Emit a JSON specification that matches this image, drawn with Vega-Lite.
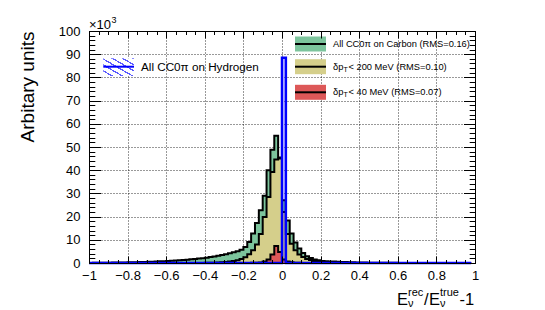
{
"$schema": "https://vega.github.io/schema/vega-lite/v6.json",
"width": 386, "height": 232,
"autosize": "none",
"padding": {"left": 89, "top": 31, "right": 70, "bottom": 47},
"background": "white",
"config": {"view": {"stroke": "#000", "strokeWidth": 1}, "font": "Liberation Sans",
  "axis": {"labelFont": "Liberation Sans", "titleFont": "Liberation Sans", "labelColor": "#000", "titleColor": "#000", "domainColor": "#000", "tickColor": "#000"}},
"resolve": {"axis": {"x": "independent", "y": "independent"}},
"data": {"values": [
{"x":-1,"c":50,"d":0,"r":0,"h":0},
{"x":-0.98,"c":60,"d":0,"r":0,"h":0},
{"x":-0.96,"c":80,"d":0,"r":0,"h":0},
{"x":-0.94,"c":100,"d":0,"r":0,"h":0},
{"x":-0.92,"c":120,"d":0,"r":0,"h":0},
{"x":-0.9,"c":150,"d":0,"r":0,"h":0},
{"x":-0.88,"c":170,"d":0,"r":0,"h":0},
{"x":-0.86,"c":200,"d":0,"r":0,"h":0},
{"x":-0.84,"c":220,"d":0,"r":0,"h":0},
{"x":-0.82,"c":250,"d":0,"r":0,"h":0},
{"x":-0.8,"c":300,"d":0,"r":0,"h":0},
{"x":-0.78,"c":330,"d":0,"r":0,"h":0},
{"x":-0.76,"c":370,"d":0,"r":0,"h":0},
{"x":-0.74,"c":420,"d":0,"r":0,"h":0},
{"x":-0.72,"c":470,"d":0,"r":0,"h":0},
{"x":-0.7,"c":520,"d":0,"r":0,"h":0},
{"x":-0.68,"c":580,"d":0,"r":0,"h":0},
{"x":-0.66,"c":650,"d":0,"r":0,"h":0},
{"x":-0.64,"c":720,"d":0,"r":0,"h":0},
{"x":-0.62,"c":800,"d":0,"r":0,"h":0},
{"x":-0.6,"c":900,"d":0,"r":0,"h":0},
{"x":-0.58,"c":1000,"d":0,"r":0,"h":0},
{"x":-0.56,"c":1100,"d":0,"r":0,"h":0},
{"x":-0.54,"c":1200,"d":0,"r":0,"h":0},
{"x":-0.52,"c":1300,"d":0,"r":0,"h":0},
{"x":-0.5,"c":1450,"d":5,"r":0,"h":0},
{"x":-0.48,"c":1600,"d":10,"r":0,"h":0},
{"x":-0.46,"c":1750,"d":20,"r":0,"h":0},
{"x":-0.44,"c":1900,"d":30,"r":0,"h":0},
{"x":-0.42,"c":2100,"d":50,"r":0,"h":0},
{"x":-0.4,"c":2300,"d":70,"r":0,"h":0},
{"x":-0.38,"c":2550,"d":100,"r":0,"h":0},
{"x":-0.36,"c":2800,"d":140,"r":0,"h":0},
{"x":-0.34,"c":3100,"d":200,"r":0,"h":0},
{"x":-0.32,"c":3400,"d":300,"r":0,"h":0},
{"x":-0.3,"c":3800,"d":420,"r":0,"h":0},
{"x":-0.28,"c":4200,"d":600,"r":0,"h":0},
{"x":-0.26,"c":4600,"d":850,"r":0,"h":0},
{"x":-0.24,"c":5100,"d":1200,"r":0,"h":0},
{"x":-0.22,"c":5700,"d":1700,"r":10,"h":0},
{"x":-0.2,"c":6900,"d":2500,"r":30,"h":0},
{"x":-0.18,"c":9000,"d":3800,"r":50,"h":0},
{"x":-0.16,"c":12700,"d":5500,"r":80,"h":0},
{"x":-0.14,"c":17200,"d":8000,"r":120,"h":0},
{"x":-0.12,"c":22700,"d":12500,"r":250,"h":0},
{"x":-0.1,"c":29000,"d":19800,"r":600,"h":0},
{"x":-0.08,"c":40000,"d":28400,"r":1500,"h":0},
{"x":-0.06,"c":48800,"d":39200,"r":3700,"h":0},
{"x":-0.04,"c":54800,"d":44600,"r":7300,"h":0},
{"x":-0.02,"c":45500,"d":45000,"r":4700,"h":0},
{"x":0,"c":27000,"d":22000,"r":1500,"h":88500},
{"x":0.02,"c":18300,"d":12500,"r":600,"h":0},
{"x":0.04,"c":12700,"d":8300,"r":300,"h":0},
{"x":0.06,"c":8800,"d":5500,"r":150,"h":0},
{"x":0.08,"c":6200,"d":3700,"r":80,"h":0},
{"x":0.1,"c":4300,"d":2600,"r":40,"h":0},
{"x":0.12,"c":2900,"d":1700,"r":20,"h":0},
{"x":0.14,"c":2200,"d":1300,"r":10,"h":0},
{"x":0.16,"c":1500,"d":900,"r":0,"h":0},
{"x":0.18,"c":1200,"d":600,"r":0,"h":0},
{"x":0.2,"c":900,"d":450,"r":0,"h":0},
{"x":0.22,"c":800,"d":350,"r":0,"h":0},
{"x":0.24,"c":700,"d":250,"r":0,"h":0},
{"x":0.26,"c":600,"d":200,"r":0,"h":0},
{"x":0.28,"c":500,"d":150,"r":0,"h":0},
{"x":0.3,"c":450,"d":100,"r":0,"h":0},
{"x":0.32,"c":400,"d":80,"r":0,"h":0},
{"x":0.34,"c":350,"d":50,"r":0,"h":0},
{"x":0.36,"c":300,"d":30,"r":0,"h":0},
{"x":0.38,"c":250,"d":20,"r":0,"h":0},
{"x":0.4,"c":200,"d":10,"r":0,"h":0},
{"x":0.42,"c":180,"d":0,"r":0,"h":0},
{"x":0.44,"c":150,"d":0,"r":0,"h":0},
{"x":0.46,"c":130,"d":0,"r":0,"h":0},
{"x":0.48,"c":110,"d":0,"r":0,"h":0},
{"x":0.5,"c":100,"d":0,"r":0,"h":0},
{"x":0.52,"c":90,"d":0,"r":0,"h":0},
{"x":0.54,"c":80,"d":0,"r":0,"h":0},
{"x":0.56,"c":70,"d":0,"r":0,"h":0},
{"x":0.58,"c":60,"d":0,"r":0,"h":0},
{"x":0.6,"c":50,"d":0,"r":0,"h":0},
{"x":0.62,"c":45,"d":0,"r":0,"h":0},
{"x":0.64,"c":40,"d":0,"r":0,"h":0},
{"x":0.66,"c":35,"d":0,"r":0,"h":0},
{"x":0.68,"c":30,"d":0,"r":0,"h":0},
{"x":0.7,"c":25,"d":0,"r":0,"h":0},
{"x":0.72,"c":20,"d":0,"r":0,"h":0},
{"x":0.74,"c":20,"d":0,"r":0,"h":0},
{"x":0.76,"c":15,"d":0,"r":0,"h":0},
{"x":0.78,"c":15,"d":0,"r":0,"h":0},
{"x":0.8,"c":10,"d":0,"r":0,"h":0},
{"x":0.82,"c":10,"d":0,"r":0,"h":0},
{"x":0.84,"c":10,"d":0,"r":0,"h":0},
{"x":0.86,"c":5,"d":0,"r":0,"h":0},
{"x":0.88,"c":5,"d":0,"r":0,"h":0},
{"x":0.9,"c":5,"d":0,"r":0,"h":0},
{"x":0.92,"c":0,"d":0,"r":0,"h":0},
{"x":0.94,"c":0,"d":0,"r":0,"h":0},
{"x":0.96,"c":0,"d":0,"r":0,"h":0},
{"x":0.98,"c":0,"d":0,"r":0,"h":0}
]},
"layer": [
{"mark": {"type": "area", "interpolate": "step-after", "fill": "#7cc49c"},
 "encoding": {
  "x": {"field": "x", "type": "quantitative", "scale": {"domain": [-1, 1], "nice": false, "zero": false},
        "axis": {"orient": "bottom", "values": [-1,-0.8,-0.6,-0.4,-0.2,0,0.2,0.4,0.6,0.8,1], "format": "~g", "grid": true, "gridDash": [1,2], "gridColor": "#000", "gridOpacity": 0.8, "ticks": false, "tickSize": 0, "domain": false, "labelFontSize": 13, "labelPadding": 6, "labelFlush": false, "labelOverlap": false, "title": null, "zindex": 0}},
  "y": {"field": "c", "type": "quantitative", "scale": {"domain": [0, 100000], "nice": false},
        "axis": {"orient": "left", "values": [0,10000,20000,30000,40000,50000,60000,70000,80000,90000,100000], "labelExpr": "format(datum.value/1000, 'd')", "grid": true, "gridDash": [1,2], "gridColor": "#000", "gridOpacity": 0.8, "ticks": false, "tickSize": 0, "domain": false, "labelFontSize": 13, "labelPadding": 9, "labelFlush": false, "labelOverlap": false,
                 "title": "Arbitary units", "titleFontSize": 19, "titleFontWeight": "normal", "titleAngle": 270, "titleAlign": "right", "titleBaseline": "alphabetic", "titleX": -56, "titleY": 0, "zindex": 0}}
 }},
{"mark": {"type": "line", "interpolate": "step-after", "color": "#000", "strokeWidth": 2},
 "encoding": {
  "x": {"field": "x", "type": "quantitative", "axis": {"orient": "bottom", "values": [-1,-0.8,-0.6,-0.4,-0.2,0,0.2,0.4,0.6,0.8,1], "labels": false, "grid": false, "domain": true, "ticks": true, "tickSize": -7, "title": null, "zindex": 1}},
  "y": {"field": "c", "type": "quantitative", "axis": {"orient": "left", "values": [0,10000,20000,30000,40000,50000,60000,70000,80000,90000,100000], "labels": false, "grid": false, "domain": false, "ticks": true, "tickSize": -11.5, "title": null, "zindex": 1}}
 }},
{"mark": {"type": "area", "interpolate": "step-after", "fill": "#d5cf8b"},
 "encoding": {
  "x": {"field": "x", "type": "quantitative", "axis": {"orient": "bottom", "values": [-1,-0.95,-0.9,-0.85,-0.8,-0.75,-0.7,-0.65,-0.6,-0.55,-0.5,-0.45,-0.4,-0.35,-0.3,-0.25,-0.2,-0.15,-0.1,-0.05,0,0.05,0.1,0.15,0.2,0.25,0.3,0.35,0.4,0.45,0.5,0.55,0.6,0.65,0.7,0.75,0.8,0.85,0.9,0.95,1], "labels": false, "grid": false, "domain": false, "ticks": true, "tickSize": -3.5, "title": null, "zindex": 1}},
  "y": {"field": "d", "type": "quantitative", "axis": {"orient": "left", "values": [0,2000,4000,6000,8000,10000,12000,14000,16000,18000,20000,22000,24000,26000,28000,30000,32000,34000,36000,38000,40000,42000,44000,46000,48000,50000,52000,54000,56000,58000,60000,62000,64000,66000,68000,70000,72000,74000,76000,78000,80000,82000,84000,86000,88000,90000,92000,94000,96000,98000,100000], "labels": false, "grid": false, "domain": false, "ticks": true, "tickSize": -5.8, "title": null, "zindex": 1}}
 }},
{"mark": {"type": "line", "interpolate": "step-after", "color": "#000", "strokeWidth": 2},
 "encoding": {
  "x": {"field": "x", "type": "quantitative", "axis": {"orient": "top", "values": [-1,-0.8,-0.6,-0.4,-0.2,0,0.2,0.4,0.6,0.8,1], "labels": false, "grid": false, "domain": false, "ticks": true, "tickSize": -7, "title": null, "zindex": 1}},
  "y": {"field": "d", "type": "quantitative", "axis": {"orient": "right", "values": [0,10000,20000,30000,40000,50000,60000,70000,80000,90000,100000], "labels": false, "grid": false, "domain": false, "ticks": true, "tickSize": -11.5, "title": null, "zindex": 1}}
 }},
{"mark": {"type": "area", "interpolate": "step-after", "fill": "#dd5858"},
 "encoding": {
  "x": {"field": "x", "type": "quantitative", "axis": {"orient": "top", "values": [-1,-0.95,-0.9,-0.85,-0.8,-0.75,-0.7,-0.65,-0.6,-0.55,-0.5,-0.45,-0.4,-0.35,-0.3,-0.25,-0.2,-0.15,-0.1,-0.05,0,0.05,0.1,0.15,0.2,0.25,0.3,0.35,0.4,0.45,0.5,0.55,0.6,0.65,0.7,0.75,0.8,0.85,0.9,0.95,1], "labels": false, "grid": false, "domain": false, "ticks": true, "tickSize": -3.5, "title": null, "zindex": 1}},
  "y": {"field": "r", "type": "quantitative", "axis": {"orient": "right", "values": [0,2000,4000,6000,8000,10000,12000,14000,16000,18000,20000,22000,24000,26000,28000,30000,32000,34000,36000,38000,40000,42000,44000,46000,48000,50000,52000,54000,56000,58000,60000,62000,64000,66000,68000,70000,72000,74000,76000,78000,80000,82000,84000,86000,88000,90000,92000,94000,96000,98000,100000], "labels": false, "grid": false, "domain": false, "ticks": true, "tickSize": -5.8, "title": null, "zindex": 1}}
 }},
{"mark": {"type": "line", "interpolate": "step-after", "color": "#000", "strokeWidth": 2},
 "encoding": {
  "x": {"field": "x", "type": "quantitative", "axis": null},
  "y": {"field": "r", "type": "quantitative", "axis": null}
 }},
{"mark": {"type": "area", "interpolate": "step-after", "fill": "#0000ff", "fillOpacity": 0.12},
 "encoding": {
  "x": {"field": "x", "type": "quantitative", "axis": null},
  "y": {"field": "h", "type": "quantitative", "axis": null}
 }},
{"mark": {"type": "line", "interpolate": "step-after", "color": "#0000ff", "strokeWidth": 2.5},
 "encoding": {
  "x": {"field": "x", "type": "quantitative", "axis": null},
  "y": {"field": "h", "type": "quantitative", "axis": null}
 }},
{"data": {"values": [{}]},
 "mark": {"type": "rect", "fill": {"gradient": "linear", "x1": 0, "y1": 1, "x2": 1, "y2": 0, "stops": [
   {"offset": 0, "color": "#ffffff"}, {"offset": 0.125, "color": "#ffffff"}, {"offset": 0.125, "color": "#5a5aff"}, {"offset": 0.1667, "color": "#5a5aff"},
   {"offset": 0.1667, "color": "#ffffff"}, {"offset": 0.2917, "color": "#ffffff"}, {"offset": 0.2917, "color": "#5a5aff"}, {"offset": 0.3333, "color": "#5a5aff"},
   {"offset": 0.3333, "color": "#ffffff"}, {"offset": 0.4583, "color": "#ffffff"}, {"offset": 0.4583, "color": "#5a5aff"}, {"offset": 0.5, "color": "#5a5aff"},
   {"offset": 0.5, "color": "#ffffff"}, {"offset": 0.625, "color": "#ffffff"}, {"offset": 0.625, "color": "#5a5aff"}, {"offset": 0.6667, "color": "#5a5aff"},
   {"offset": 0.6667, "color": "#ffffff"}, {"offset": 0.7917, "color": "#ffffff"}, {"offset": 0.7917, "color": "#5a5aff"}, {"offset": 0.8333, "color": "#5a5aff"},
   {"offset": 0.8333, "color": "#ffffff"}, {"offset": 0.9583, "color": "#ffffff"}, {"offset": 0.9583, "color": "#5a5aff"}, {"offset": 1, "color": "#5a5aff"}]}},
 "encoding": {"x": {"datum": -0.9259, "type": "quantitative", "axis": null}, "x2": {"datum": -0.7668}, "y": {"datum": 88233, "type": "quantitative", "axis": null}, "y2": {"datum": 80603}}},
{"data": {"values": [{}]},
 "mark": {"type": "rule", "color": "#0000ff", "strokeWidth": 2},
 "encoding": {"x": {"datum": -0.9259, "type": "quantitative", "axis": null}, "x2": {"datum": -0.7668}, "y": {"datum": 84612, "type": "quantitative", "axis": null}}},
{"data": {"values": [{}]},
 "mark": {"type": "text", "text": "All CC0π on Hydrogen", "align": "left", "baseline": "middle", "fontSize": 11.7, "font": "Liberation Sans", "color": "#000"},
 "encoding": {"x": {"datum": -0.7306, "type": "quantitative", "axis": null}, "y": {"datum": 84612, "type": "quantitative", "axis": null}}},
{"data": {"values": [{}]},
 "mark": {"type": "rect", "fill": "#7cc49c"},
 "encoding": {"x": {"datum": 0.0674, "type": "quantitative", "axis": null}, "x2": {"datum": 0.228}, "y": {"datum": 97630, "type": "quantitative", "axis": null}, "y2": {"datum": 91164}}},
{"data": {"values": [{}]},
 "mark": {"type": "rect", "fill": "#d5cf8b"},
 "encoding": {"x": {"datum": 0.0674, "type": "quantitative", "axis": null}, "x2": {"datum": 0.228}, "y": {"datum": 87845, "type": "quantitative", "axis": null}, "y2": {"datum": 81379}}},
{"data": {"values": [{}]},
 "mark": {"type": "rect", "fill": "#dd5858"},
 "encoding": {"x": {"datum": 0.0674, "type": "quantitative", "axis": null}, "x2": {"datum": 0.228}, "y": {"datum": 76811, "type": "quantitative", "axis": null}, "y2": {"datum": 70345}}},
{"data": {"values": [{}]},
 "mark": {"type": "rule", "color": "#000", "strokeWidth": 2},
 "encoding": {"x": {"datum": 0.0674, "type": "quantitative", "axis": null}, "x2": {"datum": 0.228}, "y": {"datum": 94397, "type": "quantitative", "axis": null}}},
{"data": {"values": [{}]},
 "mark": {"type": "rule", "color": "#000", "strokeWidth": 2},
 "encoding": {"x": {"datum": 0.0674, "type": "quantitative", "axis": null}, "x2": {"datum": 0.228}, "y": {"datum": 84612, "type": "quantitative", "axis": null}}},
{"data": {"values": [{}]},
 "mark": {"type": "rule", "color": "#000", "strokeWidth": 2},
 "encoding": {"x": {"datum": 0.0674, "type": "quantitative", "axis": null}, "x2": {"datum": 0.228}, "y": {"datum": 73578, "type": "quantitative", "axis": null}}},
{"data": {"values": [{}]},
 "mark": {"type": "text", "text": "All CC0π on Carbon (RMS=0.16)", "align": "left", "baseline": "middle", "fontSize": 9.3, "font": "Liberation Sans", "color": "#000"},
 "encoding": {"x": {"datum": 0.2642, "type": "quantitative", "axis": null}, "y": {"datum": 94397, "type": "quantitative", "axis": null}}},
{"data": {"values": [{}]},
 "mark": {"type": "text", "text": "δp", "align": "left", "baseline": "middle", "fontSize": 9.3, "font": "Liberation Sans", "color": "#000"},
 "encoding": {"x": {"datum": 0.2642, "type": "quantitative", "axis": null}, "y": {"datum": 84612, "type": "quantitative", "axis": null}}},
{"data": {"values": [{}]},
 "mark": {"type": "text", "text": "T", "align": "left", "baseline": "middle", "fontSize": 7, "dx": 10.5, "dy": 3, "font": "Liberation Sans", "color": "#000"},
 "encoding": {"x": {"datum": 0.2642, "type": "quantitative", "axis": null}, "y": {"datum": 84612, "type": "quantitative", "axis": null}}},
{"data": {"values": [{}]},
 "mark": {"type": "text", "text": "< 200 MeV (RMS=0.10)", "align": "left", "baseline": "middle", "fontSize": 9.3, "dx": 15.5, "font": "Liberation Sans", "color": "#000"},
 "encoding": {"x": {"datum": 0.2642, "type": "quantitative", "axis": null}, "y": {"datum": 84612, "type": "quantitative", "axis": null}}},
{"data": {"values": [{}]},
 "mark": {"type": "text", "text": "δp", "align": "left", "baseline": "middle", "fontSize": 9.3, "font": "Liberation Sans", "color": "#000"},
 "encoding": {"x": {"datum": 0.2642, "type": "quantitative", "axis": null}, "y": {"datum": 73700, "type": "quantitative", "axis": null}}},
{"data": {"values": [{}]},
 "mark": {"type": "text", "text": "T", "align": "left", "baseline": "middle", "fontSize": 7, "dx": 10.5, "dy": 3, "font": "Liberation Sans", "color": "#000"},
 "encoding": {"x": {"datum": 0.2642, "type": "quantitative", "axis": null}, "y": {"datum": 73700, "type": "quantitative", "axis": null}}},
{"data": {"values": [{}]},
 "mark": {"type": "text", "text": "< 40 MeV (RMS=0.07)", "align": "left", "baseline": "middle", "fontSize": 9.3, "dx": 15.5, "font": "Liberation Sans", "color": "#000"},
 "encoding": {"x": {"datum": 0.2642, "type": "quantitative", "axis": null}, "y": {"datum": 73700, "type": "quantitative", "axis": null}}},
{"data": {"values": [{}]},
 "mark": {"type": "text", "text": "×10", "align": "left", "baseline": "alphabetic", "fontSize": 13, "dy": -2.5, "font": "Liberation Sans", "color": "#000"},
 "encoding": {"x": {"datum": -1, "type": "quantitative", "axis": null}, "y": {"datum": 100000, "type": "quantitative", "axis": null}}},
{"data": {"values": [{}]},
 "mark": {"type": "text", "text": "3", "align": "left", "baseline": "alphabetic", "fontSize": 9, "dx": 22.5, "dy": -8, "font": "Liberation Sans", "color": "#000"},
 "encoding": {"x": {"datum": -1, "type": "quantitative", "axis": null}, "y": {"datum": 100000, "type": "quantitative", "axis": null}}},
{"data": {"values": [{}]},
 "mark": {"type": "text", "text": "E", "align": "left", "baseline": "alphabetic", "fontSize": 16.5, "dx": -78, "dy": 42, "font": "Liberation Sans", "color": "#000"},
 "encoding": {"x": {"datum": 1, "type": "quantitative", "axis": null}, "y": {"datum": 0, "type": "quantitative", "axis": null}}},
{"data": {"values": [{}]},
 "mark": {"type": "text", "text": "rec", "align": "left", "baseline": "alphabetic", "fontSize": 11, "dx": -67, "dy": 32.5, "font": "Liberation Sans", "color": "#000"},
 "encoding": {"x": {"datum": 1, "type": "quantitative", "axis": null}, "y": {"datum": 0, "type": "quantitative", "axis": null}}},
{"data": {"values": [{}]},
 "mark": {"type": "text", "text": "ν", "align": "left", "baseline": "alphabetic", "fontSize": 11, "dx": -67, "dy": 44, "font": "Liberation Sans", "color": "#000"},
 "encoding": {"x": {"datum": 1, "type": "quantitative", "axis": null}, "y": {"datum": 0, "type": "quantitative", "axis": null}}},
{"data": {"values": [{}]},
 "mark": {"type": "text", "text": "/", "align": "left", "baseline": "alphabetic", "fontSize": 16.5, "dx": -51, "dy": 42, "font": "Liberation Sans", "color": "#000"},
 "encoding": {"x": {"datum": 1, "type": "quantitative", "axis": null}, "y": {"datum": 0, "type": "quantitative", "axis": null}}},
{"data": {"values": [{}]},
 "mark": {"type": "text", "text": "E", "align": "left", "baseline": "alphabetic", "fontSize": 16.5, "dx": -46, "dy": 42, "font": "Liberation Sans", "color": "#000"},
 "encoding": {"x": {"datum": 1, "type": "quantitative", "axis": null}, "y": {"datum": 0, "type": "quantitative", "axis": null}}},
{"data": {"values": [{}]},
 "mark": {"type": "text", "text": "true", "align": "left", "baseline": "alphabetic", "fontSize": 11, "dx": -35, "dy": 32.5, "font": "Liberation Sans", "color": "#000"},
 "encoding": {"x": {"datum": 1, "type": "quantitative", "axis": null}, "y": {"datum": 0, "type": "quantitative", "axis": null}}},
{"data": {"values": [{}]},
 "mark": {"type": "text", "text": "ν", "align": "left", "baseline": "alphabetic", "fontSize": 11, "dx": -35, "dy": 44, "font": "Liberation Sans", "color": "#000"},
 "encoding": {"x": {"datum": 1, "type": "quantitative", "axis": null}, "y": {"datum": 0, "type": "quantitative", "axis": null}}},
{"data": {"values": [{}]},
 "mark": {"type": "text", "text": "-1", "align": "left", "baseline": "alphabetic", "fontSize": 16.5, "dx": -15.5, "dy": 42, "font": "Liberation Sans", "color": "#000"},
 "encoding": {"x": {"datum": 1, "type": "quantitative", "axis": null}, "y": {"datum": 0, "type": "quantitative", "axis": null}}}
]
}
